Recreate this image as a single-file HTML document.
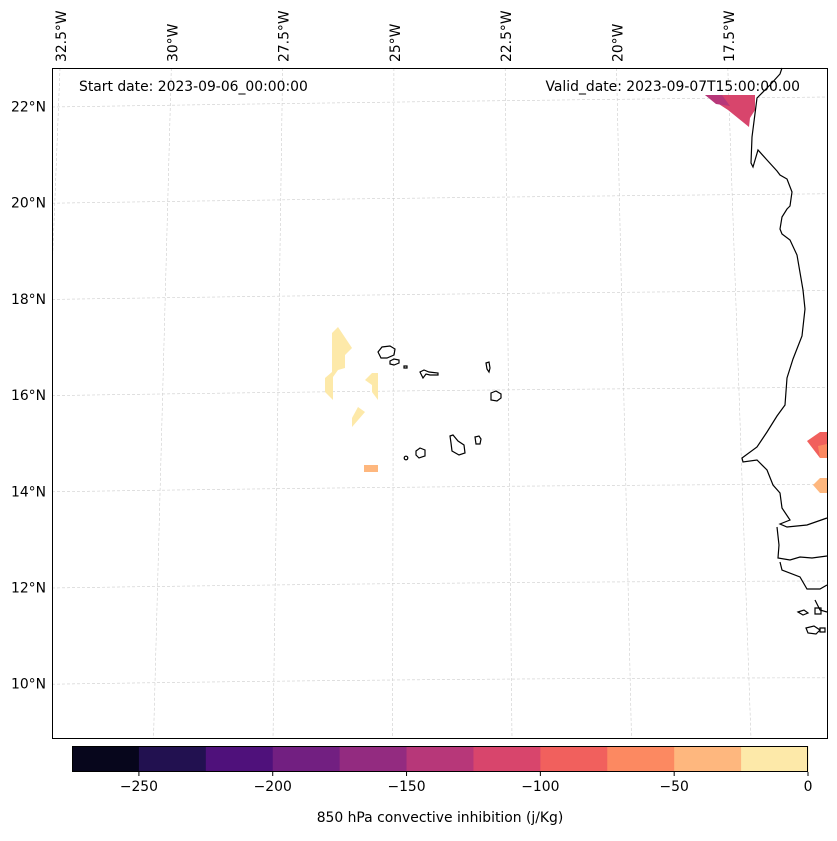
<!DOCTYPE html>
<html><head><meta charset="utf-8"><style>
body{margin:0;background:#fff;}
svg text{font-family:"DejaVu Sans","Liberation Sans",sans-serif;font-size:13.9px;fill:#000;}
</style></head><body>
<svg id="chart" width="837" height="836" viewBox="0 0 837 836" xmlns="http://www.w3.org/2000/svg">
<g id="grid"></g>
<g id="fills">
 <polygon points="705,95 755,95 755,110 750,118 749,127 728,110" fill="#d8456c"/>
 <polygon points="705,95 722,95 730,106 716,104" fill="#b73779"/>
 <polygon points="332,333 338,327 352,348 345,355 345,368 338,370 333,377 333,400 325,392 325,378 332,372" fill="#fde9a9"/>
 <polygon points="365,380 372,373 378,373 378,400 372,392 372,385" fill="#fde9a9"/>
 <polygon points="358,407 365,412 352,427 352,418" fill="#fde9a9"/>
 <rect x="364" y="465" width="14" height="7" fill="#feb77e"/>
 <polygon points="807,441 820,432 827,432 827,458 820,458" fill="#f1605d"/>
 <polygon points="818,446 827,444 827,458 820,458" fill="#fc8961"/>
 <polygon points="813,485 820,478 827,478 827,493 820,493" fill="#feb77e"/>
</g>
<g id="coast" fill="none" stroke="#000" stroke-width="1.2">
 <polyline points="782,68 780,74 770,85 757,98 752,137 751,163 753,167 758,150 767,160 777,171 780,175 787,179 792,192 790,206 787,209 782,217 780,229 782,234 790,240 797,255 803,290 805,309 802,336 793,359 787,378 785,405 777,416 767,432 757,447 742,458 743,462 757,460 767,470 773,485 780,493 782,508 790,520 780,524 787,527 807,525 827,518"/>
 <polyline points="777,527 779,545 778,558 790,560 800,557 812,558 827,556"/>
 <polyline points="780,562 782,570 800,577 807,589 820,589 827,585"/>
 <polyline points="815,600 820,610 827,612"/>
 <path d="M798,612 l6,-2 l4,3 l-5,2z M815,608 l6,0 l0,6 l-6,0z M806,628 l8,-2 l6,4 l-4,4 l-8,-1z M820,628 l5,0 l0,4 l-5,0z"/>
 <path d="M378,352 l4,-5 l8,-1 l5,3 l-1,6 l-7,3 l-6,0 z"/>
 <path d="M390,361 l4,-2 l5,1 l0,3 l-5,2 l-4,-1 z"/>
 <path d="M404,366 l3,0 l0,2 l-3,0z"/>
 <path d="M420,372 l4,-2 l5,2 l9,1 l0,2 l-8,0 l-4,-1 l-3,4 z"/>
 <path d="M486,363 l3,-1 l1,6 l-1,4 l-2,-3 z"/>
 <path d="M491,393 l5,-2 l5,3 l0,4 l-4,3 l-6,-1 z"/>
 <path d="M475,437 l4,-1 l2,3 l-1,5 l-4,0 z"/>
 <path d="M450,436 l3,-1 l5,6 l6,4 l1,8 l-6,2 l-7,-4 l-1,-8 z"/>
 <path d="M416,451 l4,-3 l5,2 l0,6 l-6,2 l-3,-3 z"/>
 <circle cx="406" cy="458" r="1.8"/>
</g>
<rect x="52.5" y="68.5" width="775" height="670" fill="none" stroke="#000" stroke-width="1"/>
<text x="79" y="91">Start date: 2023-09-06_00:00:00</text>
<text x="800" y="91" text-anchor="end">Valid_date: 2023-09-07T15:00:00.00</text>
<g id="lonlabels"></g>
<g id="latlabels"></g>
<g id="cbar"></g>
<text x="440" y="822" text-anchor="middle">850 hPa convective inhibition (j/Kg)</text>
</svg>
<script>
const lonLabels=["32.5°W","30°W","27.5°W","25°W","22.5°W","20°W","17.5°W"];
const latLabels=["22°N","20°N","18°N","16°N","14°N","12°N","10°N"];
const cbarLevels=[-275,-250,-225,-200,-175,-150,-125,-100,-75,-50,-25,0];
const cbarColors=["#07061c","#221150","#4f117b","#721f81","#932b80","#b73779","#d8456c","#f1605d","#fc8961","#feb77e","#fde9a9"];
const cbarTicks=[-250,-200,-150,-100,-50,0];
const NS="http://www.w3.org/2000/svg";
function mk(t,a,p){const e=document.createElementNS(NS,t);for(const k in a)e.setAttribute(k,a[k]);p.appendChild(e);return e;}
function lonTopX(i){return 60+i*111.3;}
function lonBotX(i){return 34+i*119.5;}
function latY(j){return 107+j*96.2;}
const grid=document.getElementById('grid');
lonLabels.forEach((l,i)=>{
 const x2=Math.max(lonBotX(i),53);
 const g=mk('line',{x1:lonTopX(i),y1:68,x2:lonBotX(i),y2:739,stroke:'#ccc','stroke-width':0.6,'stroke-dasharray':'3,2'},grid);
 
 
 const t=mk('text',{transform:`translate(${lonTopX(i)+6},62) rotate(-90)`},document.getElementById('lonlabels'));
 t.textContent=l;
 
 
});
latLabels.forEach((l,j)=>{
 const y=latY(j);
 const p=mk('path',{d:`M52,${y} Q440,${y-6} 827,${y-10+j*0.6}`,fill:'none',stroke:'#ccc','stroke-width':0.6,'stroke-dasharray':'3,2'},grid);
 
 
 const t=mk('text',{x:46,y:y+4.5,'text-anchor':'end'},document.getElementById('latlabels'));
 t.textContent=l;
 
 
});
const clip=mk('clipPath',{id:'mapclip'},document.getElementById('chart'));
mk('rect',{x:52,y:68,width:775,height:671},clip);
grid.setAttribute('clip-path','url(#mapclip)');
const cb=document.getElementById('cbar');
const cx0=72,cx1=808,cy=746,ch=26;
function cx(v){return cx0+(v-cbarLevels[0])/(cbarLevels[cbarLevels.length-1]-cbarLevels[0])*(cx1-cx0);}
cbarColors.forEach((c,i)=>{
 const r=mk('rect',{x:cx(cbarLevels[i]),y:cy,width:cx(cbarLevels[i+1])-cx(cbarLevels[i])+0.5,height:ch,fill:c},cb);
 
 
});
const fr=mk('rect',{x:cx0+0.5,y:cy+0.5,width:cx1-cx0-1,height:ch-1,fill:'none',stroke:'#000','stroke-width':1},cb);


cbarTicks.forEach(v=>{
 const tk=mk('line',{x1:cx(v),y1:cy+ch,x2:cx(v),y2:cy+ch+4,stroke:'#000'},cb);
 
 
 const t=mk('text',{x:cx(v),y:cy+ch+19,'text-anchor':'middle'},cb);
 t.textContent=v<0?'\u2212'+Math.abs(v):String(v);
 
 
});
</script>
</body></html>
